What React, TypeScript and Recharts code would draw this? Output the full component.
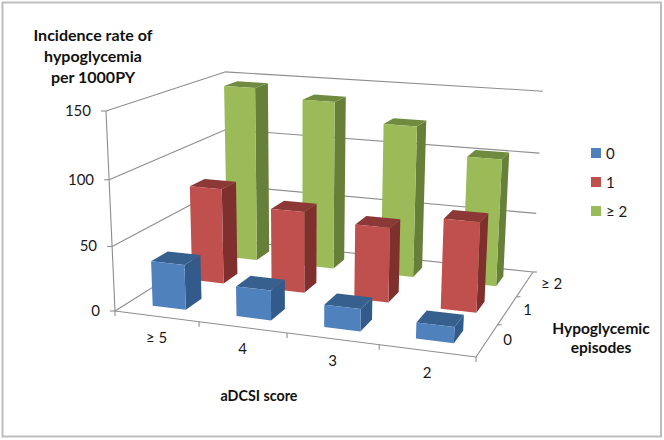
import React from "react";
import { Bar, BarChart, Legend, XAxis, YAxis } from "recharts";

const scores = ["≥ 5", "4", "3", "2"];
const episodes = ["0", "1", "≥ 2"];
const valueTicks = [0, 50, 100, 150];
const episodes0 = [35, 23, 17, 12];
const episodes1 = [77, 65, 59, 70];
const episodes2 = [146, 139, 124, 103];

const data = scores.map((score, i) => ({
  score,
  e0: episodes0[i],
  e1: episodes1[i],
  e2: episodes2[i],
}));

const W = 664;
const H = 440;
// flat plot the library scales into; every point is then projected onto the 3D box
const PLOT = { left: 100, top: 100, width: 400, height: 200 };
const BAR_SIZE = PLOT.width / scores.length * 0.4;
const FONT = "Lato, Carlito, sans-serif";
const GRID = "#8e8e8e";

// floor homography, (u, v) in the unit square to the floor corners in the picture
const corners = [[115, 311], [476, 357], [533, 272], [228, 240]];
const [c0, c1, c2, c3] = corners;
const sx = c0[0] - c1[0] + c2[0] - c3[0];
const sy = c0[1] - c1[1] + c2[1] - c3[1];
const det = (c1[0] - c2[0]) * (c3[1] - c2[1]) - (c3[0] - c2[0]) * (c1[1] - c2[1]);
const g = (sx * (c3[1] - c2[1]) - (c3[0] - c2[0]) * sy) / det;
const h = ((c1[0] - c2[0]) * sy - sx * (c1[1] - c2[1])) / det;
// vertical vanishing point gives the height term
const rw = -0.0457;
const vanish = [303, 4487];

const project = (u: number, v: number, w: number): [number, number] => {
  const d = 1 + g * u + h * v + rw * w;
  const x =
    c0[0] + (c1[0] - c0[0] + g * c1[0]) * u + (c3[0] - c0[0] + h * c3[0]) * v + rw * vanish[0] * w;
  const y =
    c0[1] + (c1[1] - c0[1] + g * c1[1]) * u + (c3[1] - c0[1] + h * c3[1]) * v + rw * vanish[1] * w;
  return [x / d, y / d];
};

const toPoints = (pts: [number, number][]) =>
  pts.map((p) => `${p[0].toFixed(1)},${p[1].toFixed(1)}`).join(" ");

const seg = (a: [number, number], b: [number, number], key: string) => (
  <line key={key} x1={a[0]} y1={a[1]} x2={b[0]} y2={b[1]} stroke={GRID} strokeWidth={1.1} />
);

const makeBox = (depth: number, side: string, top: string) => (props: any) => {
  const { x, y, width, height, fill } = props;
  const u0 = (x - PLOT.left) / PLOT.width;
  const u1 = (x + width - PLOT.left) / PLOT.width;
  const w = (PLOT.top + PLOT.height - y) / PLOT.height;
  const w0 = (PLOT.top + PLOT.height - y - height) / PLOT.height;
  const v0 = (depth + 0.3) / episodes.length;
  const v1 = (depth + 0.7) / episodes.length;
  return (
    <g>
      <polygon
        points={toPoints([project(u1, v0, w0), project(u1, v1, w0), project(u1, v1, w), project(u1, v0, w)])}
        fill={side}
      />
      <polygon
        points={toPoints([project(u0, v0, w), project(u1, v0, w), project(u1, v1, w), project(u0, v1, w)])}
        fill={top}
      />
      <polygon
        points={toPoints([project(u0, v0, w0), project(u1, v0, w0), project(u1, v0, w), project(u0, v0, w)])}
        fill={fill}
      />
    </g>
  );
};

const Walls = () => {
  const lines: React.ReactNode[] = [];
  valueTicks.forEach((t) => {
    const w = t / 150;
    lines.push(seg(project(0, 0, w), project(0, 1, w), `l${t}`));
    lines.push(seg(project(0, 1, w), project(1, 1, w), `b${t}`));
    const a = project(0, 0, w);
    lines.push(seg([a[0] - 5, a[1]], a, `t${t}`));
  });
  lines.push(seg(project(0, 0, 0), project(0, 0, 1), "axis"));
  lines.push(seg(project(0, 0, 0), project(1, 0, 0), "front"));
  lines.push(seg(project(1, 0, 0), project(1, 1, 0), "right"));
  [0, 1, 2, 3, 4].forEach((i) => {
    const a = project(i / 4, 0, 0);
    lines.push(seg(a, [a[0], a[1] + 5], `xt${i}`));
  });
  [1, 2, 3].forEach((i) => {
    const a = project(1, i / 3, 0);
    lines.push(seg(a, [a[0] + 4, a[1]], `zt${i}`));
  });
  return <g>{lines}</g>;
};

const textBase = { fontFamily: FONT, fill: "#1a1a1a" };
const labelStyle = { fontFamily: FONT, fontWeight: 700, fontSize: 15.5, fill: "#111" };

const ScoreTick = (props: any) => {
  const u = (props.x - PLOT.left) / PLOT.width;
  const [px, py] = project(u, 0, 0);
  return (
    <text x={px} y={py + 27} textAnchor="middle" fontSize={15} {...textBase}>
      {props.payload.value}
    </text>
  );
};

const ValueTick = (props: any) => {
  const w = (PLOT.top + PLOT.height - props.y) / PLOT.height;
  const [px, py] = project(0, 0, w);
  return (
    <text x={px - 15} y={py + 5} textAnchor="end" fontSize={15} {...textBase}>
      {props.payload.value}
    </text>
  );
};

const DepthLabels = () => (
  <g>
    {episodes.map((name, i) => {
      const [px, py] = project(1, (i + 0.5) / episodes.length, 0);
      return (
        <text key={name} x={px + 16} y={py + 5} fontSize={15} {...textBase}>
          {name}
        </text>
      );
    })}
  </g>
);

const LegendBox = ({ payload }: any) => (
  <div style={{ fontFamily: FONT, fontSize: 15, color: "#1a1a1a" }}>
    {(payload || []).map((item: any) => (
      <div key={item.value} style={{ height: 29, display: "flex", alignItems: "center" }}>
        <span style={{ width: 10, height: 10, background: item.color, marginRight: 5 }} />
        {item.value}
      </div>
    ))}
  </div>
);

const boxE2 = makeBox(2, "#66803a", "#708b40");
const boxE1 = makeBox(1, "#7f2f2d", "#8c3836");
const boxE0 = makeBox(0, "#325a8a", "#37608f");

export default function App() {
  return (
    <div style={{ position: "absolute", left: 0, top: 0, width: W, height: H }}>
      <BarChart
        width={W}
        height={H}
        data={data}
        margin={{
          top: PLOT.top,
          left: PLOT.left - 1,
          right: W - PLOT.left - PLOT.width,
          bottom: H - PLOT.top - PLOT.height - 1,
        }}
        barSize={BAR_SIZE}
        barGap={-BAR_SIZE}
      >
        <rect x={2.5} y={2.5} width={658.5} height={434} fill="#fff" stroke="#bdbdbd" strokeWidth={2} />
        <Walls />
        <XAxis dataKey="score" height={1} axisLine={false} tickLine={false} interval={0} tick={ScoreTick} />
        <YAxis
          width={1}
          domain={[0, 150]}
          ticks={valueTicks}
          axisLine={false}
          tickLine={false}
          tick={ValueTick}
        />
        <Legend
          content={LegendBox}
          layout="vertical"
          align="center"
          verticalAlign="middle"
          wrapperStyle={{ left: 591, top: 138, width: 60, bottom: "auto" }}
        />
        <Bar dataKey="e2" name={episodes[2]} fill="#9bbb59" shape={boxE2} isAnimationActive={false} />
        <Bar dataKey="e1" name={episodes[1]} fill="#c0504d" shape={boxE1} isAnimationActive={false} />
        <Bar dataKey="e0" name={episodes[0]} fill="#4f81bd" shape={boxE0} isAnimationActive={false} />
        <DepthLabels />
        <text x={93} y={41} textAnchor="middle" {...labelStyle} fontSize={16}>Incidence rate of</text>
        <text x={93} y={62} textAnchor="middle" {...labelStyle} fontSize={16}>hypoglycemia</text>
        <text x={93} y={83} textAnchor="middle" {...labelStyle} fontSize={16}>per 1000PY</text>
        <text x={259} y={401} textAnchor="middle" {...labelStyle} fontSize={14.3}>aDCSI score</text>
        <text x={601} y={334} textAnchor="middle" {...labelStyle}>Hypoglycemic</text>
        <text x={601} y={353} textAnchor="middle" {...labelStyle}>episodes</text>
      </BarChart>
    </div>
  );
}
